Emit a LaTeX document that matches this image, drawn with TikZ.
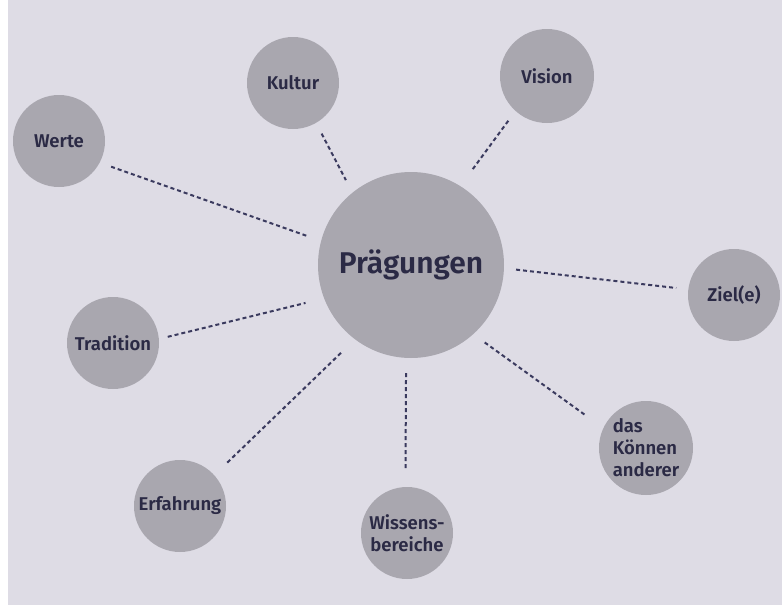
\documentclass[tikz,border=0pt]{standalone}
\usepackage{fontspec}
\setmainfont{Fira Sans}[UprightFont={* SemiBold}]
\begin{document}
\definecolor{paper}{HTML}{DEDCE5}
\definecolor{bubble}{HTML}{A9A7AF}
\definecolor{ink}{HTML}{2B2A45}
\definecolor{dots}{HTML}{3A3A5E}
\begin{tikzpicture}[x=1pt,y=-1pt,
  bubble/.style={circle,fill=bubble,draw=none,inner sep=0pt,minimum size=92pt,
    text=ink,font=\fontsize{18.5}{22}\selectfont,align=center},
  link/.style={draw=dots,line width=2pt,dash pattern=on 4pt off 3pt}]
  % page background
  \fill[paper] (0,0) rectangle (782,605);
  \fill[white] (0,0) rectangle (8,605);
  \useasboundingbox (0,0) rectangle (782,605);
  % centre bubble
  \node[bubble,minimum size=186pt,font=\fontsize{30}{36}\selectfont] (P) at (411,265) {Prägungen};
  % outer bubbles
  \node[bubble] (W) at (59,141) {Werte};
  \node[bubble] (K) at (293,83) {Kultur};
  \node[bubble,minimum size=94pt] (V) at (547,76) {Vision};
  \node[bubble] (Z) at (734,295) {Ziel(e)};
  \node[bubble] (T) at (113,343) {Tradition};
  \node[bubble] (E) at (180,506) {Erfahrung};
  \node[bubble] (B) at (407,533) {Wissens-\\bereiche};
  \node[bubble,minimum size=94pt,align=left] (C) at (646,448) {das\\Können\\anderer};
  % dotted connectors
  \draw[link,shorten <=12pt,shorten >=14pt] (W.-28) -- (P.165);
  \draw[link,shorten <=12pt,shorten >=14pt] (K.-60) -- (P.129);
  \draw[link,shorten <=12pt,shorten >=19pt] (V.228) -- (P.58);
  \draw[link,shorten <=12pt,shorten >=12pt] (P.-2) -- (Z.173);
  \draw[link,shorten <=9pt,shorten >=19pt] (T.5) -- (P.201);
  \draw[link,shorten <=18pt,shorten >=19pt] (E.42) -- (P.233);
  \draw[link,shorten <=15pt,shorten >=17pt] (P.-93) -- (B.92);
  \draw[link,shorten <=14pt,shorten >=22pt] (P.-48) -- (C.155);
\end{tikzpicture}
\end{document}
